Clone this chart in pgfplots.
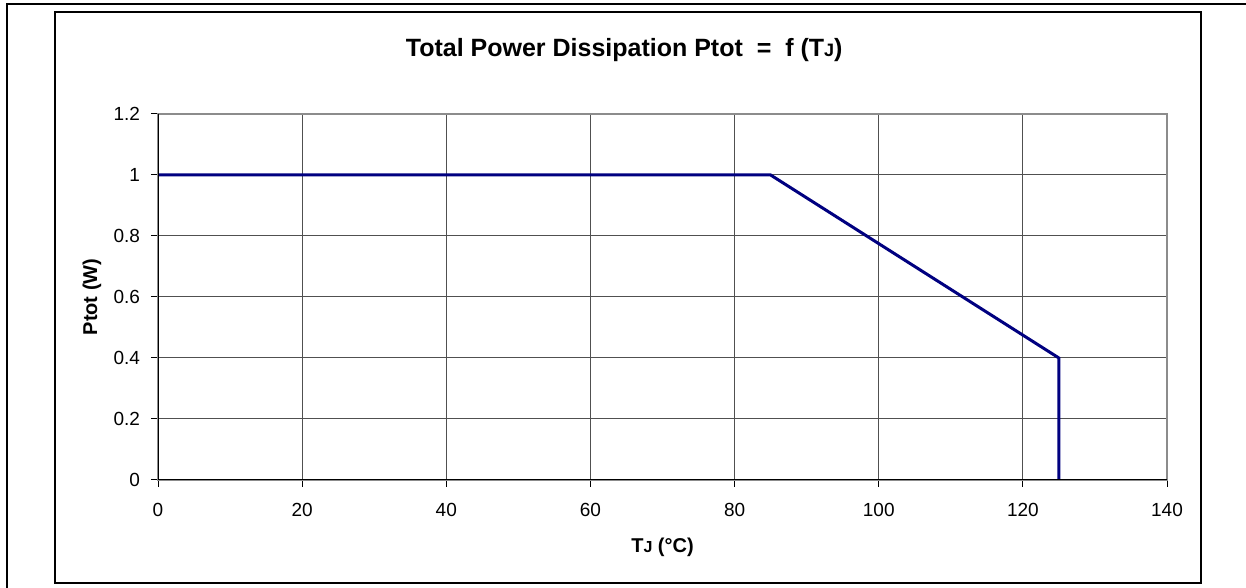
\documentclass[border=0pt]{standalone}
\usepackage{fontspec}
\setmainfont{Liberation Sans}
\usepackage{pgfplots}
\pgfplotsset{compat=1.18}

\definecolor{navyline}{RGB}{0,0,128}
\definecolor{gridgray}{RGB}{80,80,80}
\definecolor{boxgray}{RGB}{140,140,140}

\begin{document}
\begin{tikzpicture}
% page: 1246x588 px at 0.5pt per px
\useasboundingbox (0,0) rectangle (623pt,294pt);
\draw[line width=0.6pt] (3.5pt,0) -- (3.5pt,292pt) -- (623pt,292pt);
\draw[line width=0.6pt] (27.5pt,2.5pt) rectangle (600.5pt,288pt);

\begin{axis}[
    at={(79pt,54pt)}, anchor=south west,
    scale only axis,
    width=504.5pt, height=183pt,
    xmin=0, xmax=140,
    ymin=0, ymax=1.2,
    xtick={0,20,...,140},
    ytick={0,0.2,0.4,0.6,0.8,1,1.2},
    yticklabels={0,0.2,0.4,0.6,0.8,1,1.2},
    grid=major,
    major grid style={draw=gridgray, line width=0.5pt},
    axis line style={draw=boxgray, line width=0.6pt},
    tick align=outside,
    xtick pos=left, ytick pos=left,
    major tick length=3.5pt,
    tick style={draw=black, line width=0.5pt},
    /pgf/number format/assume math mode=true,
    ticklabel style={font=\fontsize{9.5}{11}\selectfont},
    xticklabel style={yshift=-4.5pt},
    yticklabel style={xshift=-2pt},
    title={\textbf{Total Power Dissipation Ptot\ \ =\ \ f (T{\fontsize{9}{10}\selectfont J})}},
    title style={at={(axis description cs:0.462,1.142)}, anchor=center, font=\fontsize{12.5}{14}\selectfont},
    xlabel={\textbf{T{\fontsize{8}{9}\selectfont J} (°C)}},
    xlabel style={at={(axis description cs:0.5,-0.183)}, anchor=center, font=\fontsize{10}{12}\selectfont},
    ylabel={\textbf{Ptot (W)}},
    ylabel style={at={(axis description cs:-0.0654,0.5)}, anchor=center, rotate=0, font=\fontsize{10}{12}\selectfont},
]
\addplot[navyline, line width=1.5pt] coordinates {
(0, 1)
(85, 1)
(125, 0.4)
(125, 0)
};
\draw[black, line width=0.6pt] (rel axis cs:0,1) -- (rel axis cs:0,0) -- (rel axis cs:1,0);
\end{axis}
\end{tikzpicture}
\end{document}
